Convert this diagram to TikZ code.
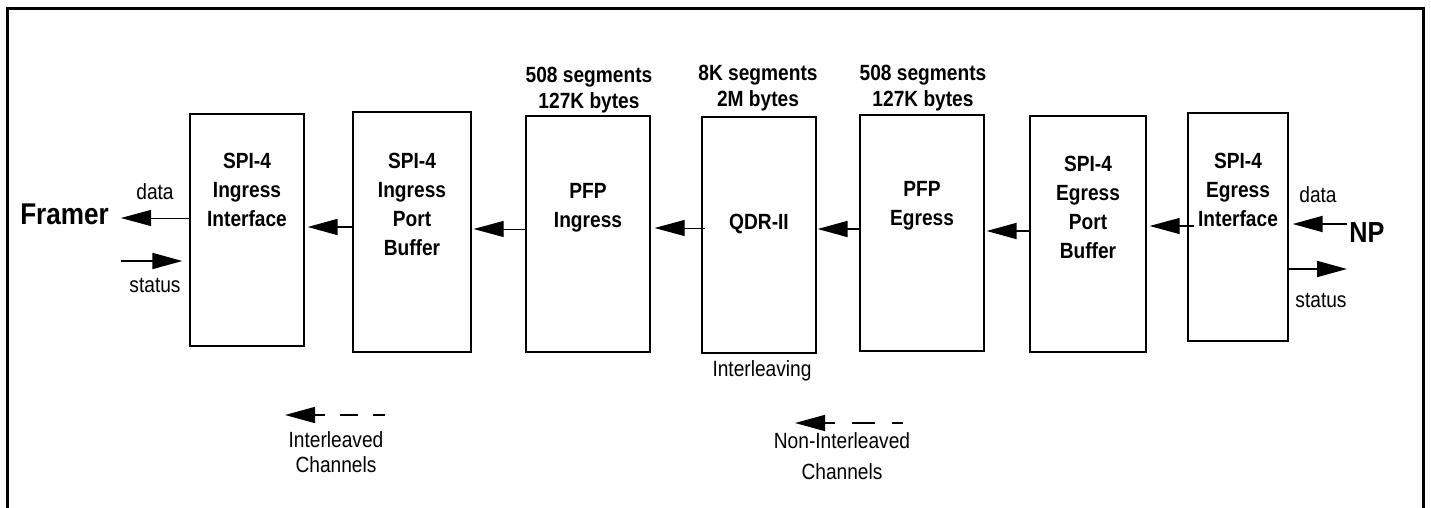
\documentclass[tikz,border=0pt]{standalone}
\usepackage{fontspec}
\setmainfont{Liberation Sans}[FakeStretch=0.87]
\usetikzlibrary{arrows.meta}
\begin{document}
\begin{tikzpicture}[x=1pt,y=-1pt,
  blk/.style={draw, line width=1.3pt, inner sep=0pt},
  btxt/.style={font=\fontsize{22}{29}\selectfont\bfseries, align=center, inner sep=0pt},
  toptxt/.style={font=\fontsize{22}{26}\selectfont\bfseries, align=center, inner sep=0pt},
  ltxt/.style={font=\fontsize{22}{26}\selectfont, align=center, inner sep=0pt},
  arr/.style={-{Triangle[length=30pt,width=16pt]}},
  thinarr/.style={arr, line width=0.9pt},
  thickarr/.style={arr, line width=1.8pt},
]
\useasboundingbox (0,0) rectangle (1431,508);
\draw[line width=3pt] (7,508) -- (7,9) -- (1423,9) -- (1423,508);

% boxes
\node[blk, minimum width=114pt, minimum height=232pt] (b1) at (247,230) {};
\node[blk, minimum width=118pt, minimum height=240pt] (b2) at (412,232) {};
\node[blk, minimum width=124pt, minimum height=236pt] (b3) at (588,234) {};
\node[blk, minimum width=114pt, minimum height=236pt] (b4) at (759,235) {};
\node[blk, minimum width=124pt, minimum height=236pt] (b5) at (922,233) {};
\node[blk, minimum width=116pt, minimum height=236pt] (b6) at (1088,234) {};
\node[blk, minimum width=100pt, minimum height=228pt] (b7) at (1238,227) {};

% box texts
\node[btxt] (t1) at (247,190) {SPI-4\\Ingress\\Interface};
\node[btxt] (t2) at (412,204) {SPI-4\\Ingress\\Port\\Buffer};
\node[btxt] (t3) at (588,208) {PFP\\Ingress};
\node[btxt] (t4) at (759,224) {QDR-II};
\node[btxt] (t5) at (922,206) {PFP\\Egress};
\node[btxt] (t6) at (1088,207) {SPI-4\\Egress\\Port\\Buffer};
\node[btxt] (t7) at (1238,190) {SPI-4\\Egress\\Interface};

% top labels
\node[toptxt] (m3) at (589,90) {508 segments\\127K bytes};
\node[toptxt] (m4) at (758,88) {8K segments\\2M bytes};
\node[toptxt] (m5) at (923,88) {508 segments\\127K bytes};

% end labels
\node[font=\fontsize{30}{34}\selectfont\bfseries, inner sep=0pt] (framer) at (64.5,214) {Framer};
\node[font=\fontsize{29}{34}\selectfont\bfseries, inner sep=0pt] (np) at (1367,233) {NP};

\node[ltxt] (dl) at (155,192) {data};
\node[ltxt] (sl) at (155,285) {status};
\node[ltxt] (dr) at (1318,195) {data};
\node[ltxt] (sr) at (1321,300) {status};
\node[ltxt] (il) at (762,371) {Interleaving};

% free ends
\coordinate (frtip) at (121,218);
\coordinate (stin) at (121,261);
\coordinate (npsrc) at (1347,224);
\coordinate (stout) at (1347,269);

% connectors
\draw[thinarr] (b1.west |- 0,218) -- (frtip);
\draw[thickarr, shorten >=7pt] (stin) -- (b1.west |- 0,261);
\draw[thickarr, shorten >=3pt] (b2.west |- 0,227) -- (b1.east |- 0,227);
\draw[thinarr, shorten >=2pt] (b3.west |- 0,229) -- (b2.east |- 0,229);
\draw[thinarr, shorten >=4pt, shorten <=-4pt] (b4.west |- 0,228) -- (b3.east |- 0,228);
\draw[thickarr, shorten >=1pt] (b5.west |- 0,229) -- (b4.east |- 0,229);
\draw[thickarr, shorten >=2pt] (b6.west |- 0,231) -- (b5.east |- 0,231);
\draw[thinarr, line width=1.3pt, shorten >=3pt, shorten <=-7pt] (b7.west |- 0,226) -- (b6.east |- 0,226);
\draw[thickarr, shorten >=4pt] (npsrc) -- (b7.east |- 0,224);
\draw[thickarr] (b7.east |- 0,269) -- (stout);

% legends
\coordinate (lg1s) at (385,415);
\coordinate (lg1t) at (285,415);
\draw[arr, line width=1.6pt, dash pattern=on 12pt off 15pt on 18pt off 15pt on 60pt] (lg1s) -- (lg1t);
\node[ltxt, font=\fontsize{22}{25}\selectfont] (lg1) at (336,452) {Interleaved\\Channels};

\coordinate (lg2s) at (903,423);
\coordinate (lg2t) at (795,423);
\draw[arr, line width=1.6pt, dash pattern=on 11pt off 17pt on 23pt off 17pt on 60pt] (lg2s) -- (lg2t);
\node[ltxt, font=\fontsize{22}{31}\selectfont] (lg2) at (842,456) {Non-Interleaved\\Channels};
\end{tikzpicture}
\end{document}
